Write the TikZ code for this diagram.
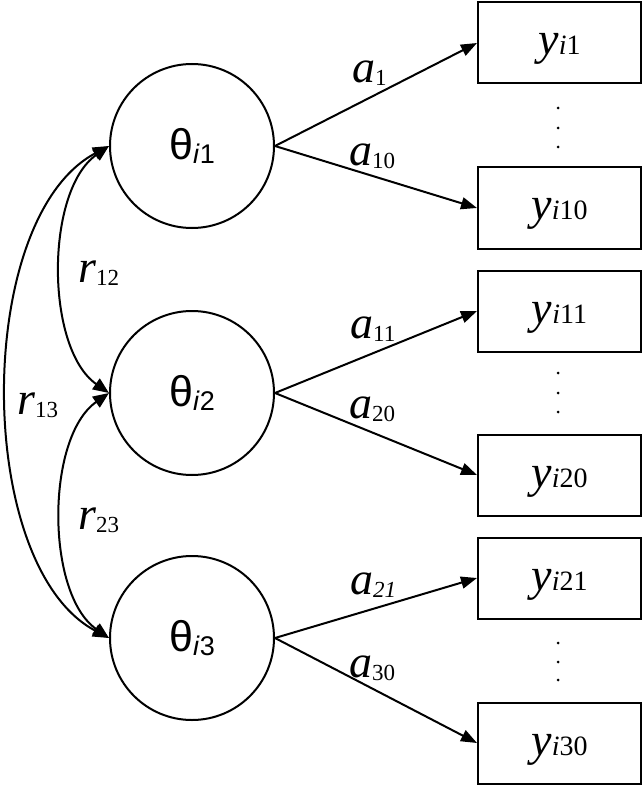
\documentclass[tikz,border=0pt]{standalone}
\usepackage{fontspec}
\setmainfont{Liberation Serif}
\newfontfamily\thfont{Liberation Sans}
\usetikzlibrary{arrows.meta}
\newcommand\ylab[1]{\raisebox{-12pt}[0pt][0pt]{\textit{y}{\fontsize{28}{28}\selectfont\textit{i}#1}}}
\newcommand\thlab[1]{{\thfont\fontsize{43}{43}\selectfont θ}\raisebox{-4pt}{\fontsize{27}{27}\selectfont\thfont\textit{i}#1}}
\newcommand\alab[1]{\textit{a}\raisebox{-3pt}{\fontsize{23}{23}\selectfont #1}}
\newcommand\rlab[1]{\textit{r}\raisebox{-3pt}{\fontsize{23}{23}\selectfont #1}}
\begin{document}
\begin{tikzpicture}[x=1pt,y=-1pt,
  lat/.style={circle,draw,line width=2pt,minimum size=164pt,inner sep=0pt,font=\fontsize{45}{45}\selectfont},
  obs/.style={rectangle,draw,line width=2pt,minimum width=163pt,minimum height=81pt,inner sep=0pt,font=\fontsize{46}{46}\selectfont},
  arr/.style={line width=2pt,-{Triangle[length=16pt,width=12pt]}},
  darr/.style={line width=2pt,{Triangle[length=16pt,width=13pt]}-{Triangle[length=16pt,width=13pt]}},
  lab/.style={font=\fontsize{46}{46}\selectfont,inner sep=0pt,anchor=base west},
  dot/.style={circle,fill,inner sep=0pt,minimum size=3pt}]
\useasboundingbox (0,0) rectangle (644,786);
\node[lat] (t1) at (192,146) {\thlab{1}};
\node[lat] (t2) at (192,393) {\thlab{2}};
\node[lat] (t3) at (192,638) {\thlab{3}};
\node[obs] (y1)  at (559.5,43)  {\ylab{1}};
\node[obs] (y10) at (559.5,208) {\ylab{10}};
\node[obs] (y11) at (559.5,311) {\ylab{11}};
\node[obs] (y20) at (559.5,475) {\ylab{20}};
\node[obs] (y21) at (559.5,578) {\ylab{21}};
\node[obs] (y30) at (559.5,743) {\ylab{30}};
\foreach \yy in {108,128,147,373,393,412,643,662,680}
  \node[dot] at (558,\yy) {};
\draw[arr] (t1.east) -- (y1.west);
\draw[arr] (t1.east) -- (y10.west);
\draw[arr] (t2.east) -- (y11.west);
\draw[arr] (t2.east) -- (y20.west);
\draw[arr] (t3.east) -- (y21.west);
\draw[arr] (t3.east) -- (y30.west);
\node[lab] (la1) at (352,83) {\alab{1}};
\node[lab] (la10) at (349,166) {\alab{10}};
\node[lab] (la11) at (350,338) {\alab{11}};
\node[lab] (la20) at (349,418) {\alab{20}};
\node[lab] (la21) at (350,594) {\alab{\textit{21}}};
\node[lab] (la30) at (349,677) {\alab{30}};
\draw[darr] (t1.west) to[out=215,in=145,looseness=0.81] (t2.west);
\draw[darr] (t2.west) to[out=215,in=145,looseness=0.81] (t3.west);
\draw[darr] (t1.west) to[out=208,in=152,looseness=0.8] (t3.west);
\node[lab] (r12) at (78,282) {\rlab{12}};
\node[lab] (r13) at (17,414) {\rlab{13}};
\node[lab] (r23) at (78,529) {\rlab{23}};
\end{tikzpicture}
\end{document}
